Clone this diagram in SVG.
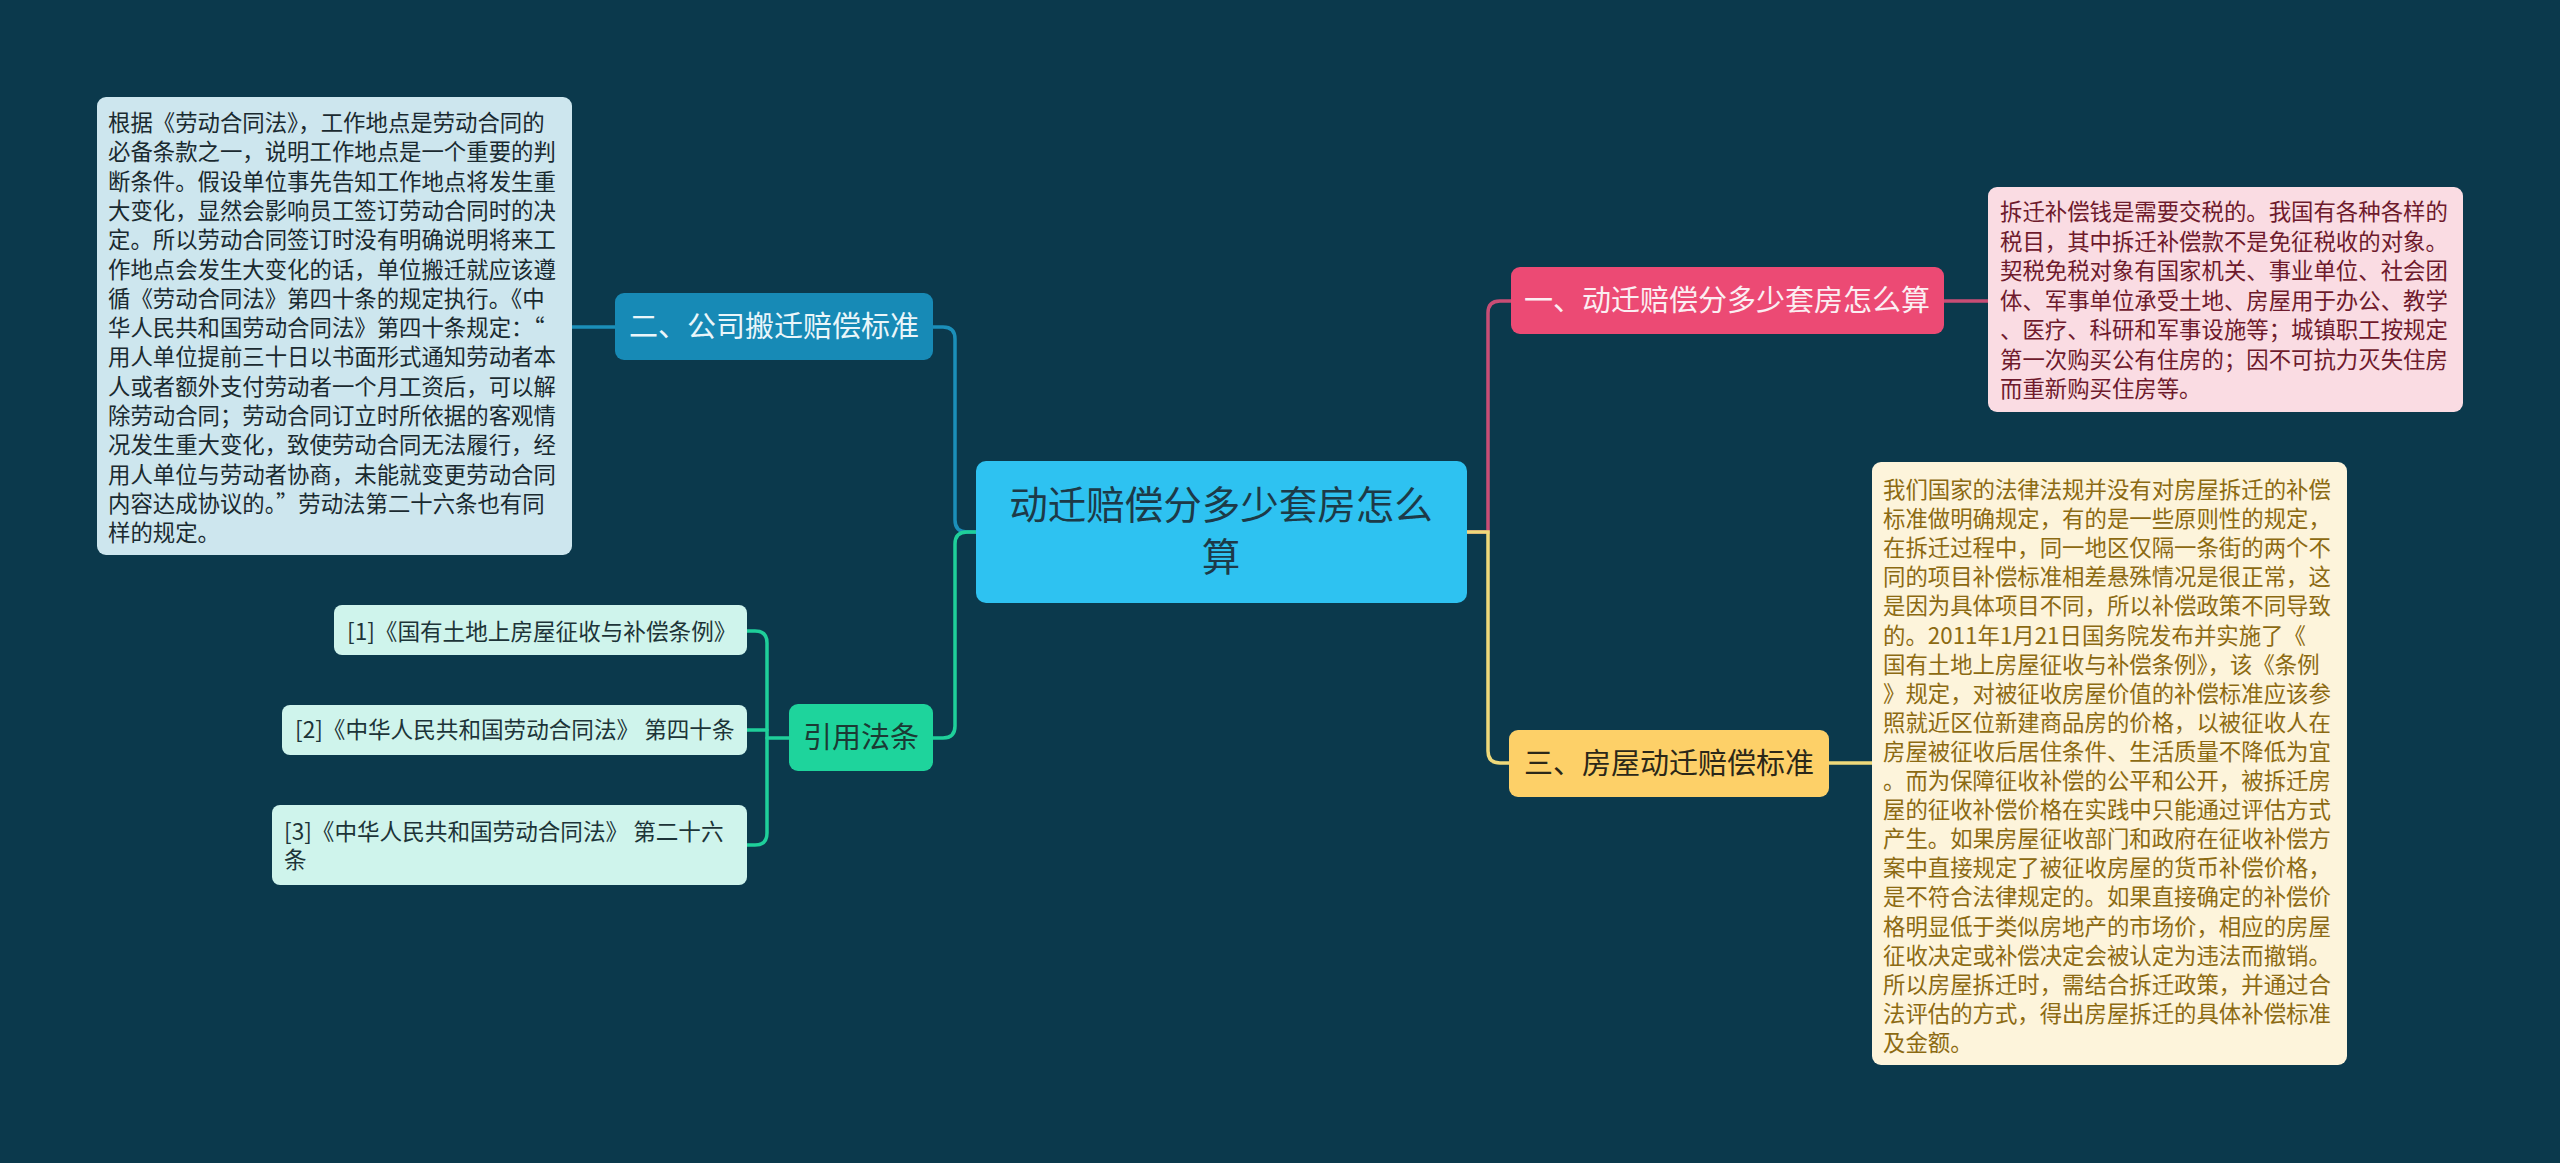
<svg xmlns="http://www.w3.org/2000/svg" width="2560" height="1163" viewBox="0 0 2560 1163">
<style>
text{font-family:"Noto Sans CJK SC","Noto Sans",sans-serif}
.conn{fill:none;stroke-width:3.5;stroke-linecap:round}
.body{font-size:22.4px}
.lbl{font-size:29px}
.ref{font-size:22.6px;fill:#1d3438}
</style>
<rect width="2560" height="1163" fill="#0b394c"/>
<g id="connectors">
<path class="conn" stroke="#1b8fb9" d="M976,532 H967 Q955,532 955,520 V339 Q955,327 943,327 H933"/>
<path class="conn" stroke="#1fcf9a" d="M976,532 H967 Q955,532 955,544 V726 Q955,738 943,738 H933"/>
<path class="conn" stroke="#1b8fb9" d="M615,327 H572"/>
<path class="conn" stroke="#1fcf9a" d="M789,738 H767"/>
<path class="conn" stroke="#1fcf9a" d="M747,631 H755 Q767,631 767,643 V833 Q767,845 755,845 H747"/>
<path class="conn" stroke="#1fcf9a" d="M747,730 H767"/>
<path class="conn" stroke="#c94d75" d="M1467,532 H1488 V313 Q1488,301 1500,301 H1511"/>
<path class="conn" stroke="#efd97a" d="M1467,532 H1488 V751 Q1488,763 1500,763 H1509"/>
<path class="conn" stroke="#c94d75" d="M1944,301 H1989"/>
<path class="conn" stroke="#efd97a" d="M1829,763 H1872"/>
</g>
<g id="center">
<rect x="976" y="461" width="491" height="142" rx="10" fill="#2ec2f1"/>
<text x="1221" y="519" text-anchor="middle" font-size="38.5" fill="#1d3a48">动迁赔偿分多少套房怎么</text>
<text x="1221" y="571" text-anchor="middle" font-size="38.5" fill="#1d3a48">算</text>
</g>
<g id="n2">
<rect x="615" y="293" width="318" height="67" rx="9" fill="#178ab6"/>
<text class="lbl" x="774" y="337" text-anchor="middle" fill="#eaf6fa">二、公司搬迁赔偿标准</text>
</g>
<g id="n2text">
<rect x="97" y="97" width="475" height="458" rx="9" fill="#cde6ee"/>
<text class="body" fill="#1a2a30">
<tspan x="108" y="131">根据《劳动合同法》，工作地点是劳动合同的</tspan>
<tspan x="108" y="160.3">必备条款之一，说明工作地点是一个重要的判</tspan>
<tspan x="108" y="189.6">断条件。假设单位事先告知工作地点将发生重</tspan>
<tspan x="108" y="218.9">大变化，显然会影响员工签订劳动合同时的决</tspan>
<tspan x="108" y="248.2">定。所以劳动合同签订时没有明确说明将来工</tspan>
<tspan x="108" y="277.5">作地点会发生大变化的话，单位搬迁就应该遵</tspan>
<tspan x="108" y="306.8">循《劳动合同法》第四十条的规定执行。《中</tspan>
<tspan x="108" y="336.1">华人民共和国劳动合同法》第四十条规定：“</tspan>
<tspan x="108" y="365.4">用人单位提前三十日以书面形式通知劳动者本</tspan>
<tspan x="108" y="394.7">人或者额外支付劳动者一个月工资后，可以解</tspan>
<tspan x="108" y="424">除劳动合同；劳动合同订立时所依据的客观情</tspan>
<tspan x="108" y="453.3">况发生重大变化，致使劳动合同无法履行，经</tspan>
<tspan x="108" y="482.6">用人单位与劳动者协商，未能就变更劳动合同</tspan>
<tspan x="108" y="511.9">内容达成协议的。”劳动法第二十六条也有同</tspan>
<tspan x="108" y="541.2">样的规定。</tspan>
</text>
</g>
<g id="refs">
<rect x="789" y="704" width="144" height="67" rx="9" fill="#1ed49c"/>
<text class="lbl" x="861" y="748" text-anchor="middle" fill="#1b3a34">引用法条</text>
</g>
<g id="ref1">
<rect x="334" y="605" width="413" height="50" rx="8" fill="#cff4ec"/>
<text class="ref" x="347" y="640">[1]《国有土地上房屋征收与补偿条例》</text>
</g>
<g id="ref2">
<rect x="282" y="705" width="465" height="50" rx="8" fill="#cff4ec"/>
<text class="ref" x="295" y="738">[2]《中华人民共和国劳动合同法》 第四十条</text>
</g>
<g id="ref3">
<rect x="272" y="805" width="475" height="80" rx="8" fill="#cff4ec"/>
<text class="ref" x="284" y="840">[3]《中华人民共和国劳动合同法》 第二十六</text>
<text class="ref" x="284" y="868">条</text>
</g>
<g id="n1">
<rect x="1511" y="267" width="433" height="67" rx="9" fill="#ec4a74"/>
<text class="lbl" x="1727" y="311" text-anchor="middle" fill="#fbeef2">一、动迁赔偿分多少套房怎么算</text>
</g>
<g id="n1text">
<rect x="1988" y="187" width="475" height="225" rx="9" fill="#fadce3"/>
<text class="body" fill="#6e1a2c">
<tspan x="2000" y="220">拆迁补偿钱是需要交税的。我国有各种各样的</tspan>
<tspan x="2000" y="249.5">税目，其中拆迁补偿款不是免征税收的对象。</tspan>
<tspan x="2000" y="279">契税免税对象有国家机关、事业单位、社会团</tspan>
<tspan x="2000" y="308.5">体、军事单位承受土地、房屋用于办公、教学</tspan>
<tspan x="2000" y="338">、医疗、科研和军事设施等；城镇职工按规定</tspan>
<tspan x="2000" y="367.5">第一次购买公有住房的；因不可抗力灭失住房</tspan>
<tspan x="2000" y="397">而重新购买住房等。</tspan>
</text>
</g>
<g id="n3">
<rect x="1509" y="730" width="320" height="67" rx="9" fill="#fdd068"/>
<text class="lbl" x="1669" y="774" text-anchor="middle" fill="#2b2718">三、房屋动迁赔偿标准</text>
</g>
<g id="n3text">
<rect x="1872" y="462" width="475" height="603" rx="9" fill="#fdf4db"/>
<text class="body" fill="#8c6a12">
<tspan x="1883" y="498">我们国家的法律法规并没有对房屋拆迁的补偿</tspan>
<tspan x="1883" y="527.1">标准做明确规定，有的是一些原则性的规定，</tspan>
<tspan x="1883" y="556.2">在拆迁过程中，同一地区仅隔一条街的两个不</tspan>
<tspan x="1883" y="585.3">同的项目补偿标准相差悬殊情况是很正常，这</tspan>
<tspan x="1883" y="614.4">是因为具体项目不同，所以补偿政策不同导致</tspan>
<tspan x="1883" y="643.5">的。2011年1月21日国务院发布并实施了《</tspan>
<tspan x="1883" y="672.6">国有土地上房屋征收与补偿条例》，该《条例</tspan>
<tspan x="1883" y="701.7">》规定，对被征收房屋价值的补偿标准应该参</tspan>
<tspan x="1883" y="730.8">照就近区位新建商品房的价格，以被征收人在</tspan>
<tspan x="1883" y="759.9">房屋被征收后居住条件、生活质量不降低为宜</tspan>
<tspan x="1883" y="789">。而为保障征收补偿的公平和公开，被拆迁房</tspan>
<tspan x="1883" y="818.1">屋的征收补偿价格在实践中只能通过评估方式</tspan>
<tspan x="1883" y="847.2">产生。如果房屋征收部门和政府在征收补偿方</tspan>
<tspan x="1883" y="876.3">案中直接规定了被征收房屋的货币补偿价格，</tspan>
<tspan x="1883" y="905.4">是不符合法律规定的。如果直接确定的补偿价</tspan>
<tspan x="1883" y="934.5">格明显低于类似房地产的市场价，相应的房屋</tspan>
<tspan x="1883" y="963.6">征收决定或补偿决定会被认定为违法而撤销。</tspan>
<tspan x="1883" y="992.7">所以房屋拆迁时，需结合拆迁政策，并通过合</tspan>
<tspan x="1883" y="1021.8">法评估的方式，得出房屋拆迁的具体补偿标准</tspan>
<tspan x="1883" y="1050.9">及金额。</tspan>
</text>
</g>
</svg>
